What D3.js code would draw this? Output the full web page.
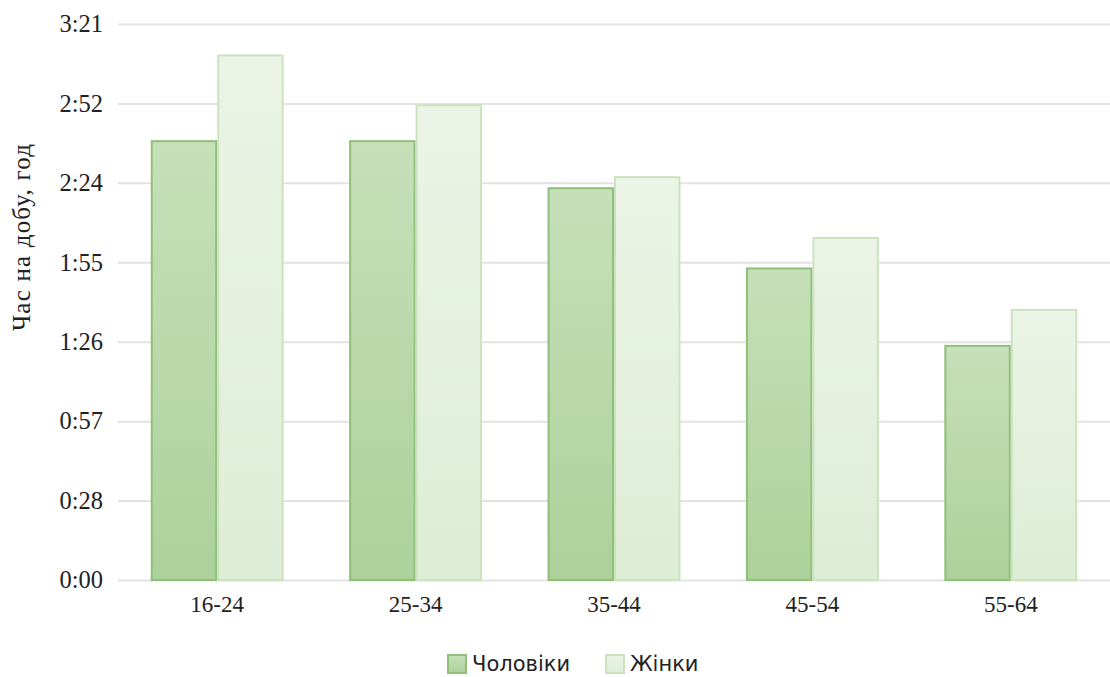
<!DOCTYPE html>
<html>
<head>
<meta charset="utf-8">
<script src="https://cdn.jsdelivr.net/npm/d3@7"></script>
<style>
  html, body { margin: 0; padding: 0; background: #fff; }
  svg { display: block; }
</style>
</head>
<body>
<svg id="chart" width="1110" height="677"></svg>
<script>
// Age groups and daily time (minutes) per sex
const categories = ["16-24", "25-34", "35-44", "45-54", "55-64"];
const seriesNames = ["Чоловіки", "Жінки"];
const menMinutes = [159, 159, 142, 113, 85];
const womenMinutes = [190, 172, 146, 124, 98];
// Axis ticks: 3:21 split into seven equal steps
const yMaxMinutes = 201;
const tickLabels = ["0:00", "0:28", "0:57", "1:26", "1:55", "2:24", "2:52", "3:21"];
const yTitle = "Час на добу, год";

const series = [menMinutes, womenMinutes];
const rows = categories.map((c, i) => ({ cat: c, values: series.map((s, k) => ({ key: seriesNames[k], value: s[i] })) }));

const svg = d3.select("#chart");
const margin = { top: 24, right: 0, bottom: 97, left: 118 };
const W = 1110, H = 677;
const innerW = W - margin.left - margin.right;
const innerH = H - margin.top - margin.bottom;

const g = svg.append("g").attr("transform", `translate(${margin.left},${margin.top})`);

const x0 = d3.scaleBand().domain(categories).range([0, innerW]).paddingInner(0.33).paddingOuter(0.165);
const x1 = d3.scaleBand().domain(seriesNames).range([0, x0.bandwidth()]);
const y = d3.scaleLinear().domain([0, yMaxMinutes]).range([innerH, 0]);
const tickValues = tickLabels.map((_, i) => i * yMaxMinutes / (tickLabels.length - 1));

const serif = "'Liberation Serif', 'Times New Roman', serif";

// vertical gradients for the bar fills
const defs = svg.append("defs");
const grads = [
  { id: "gMen", top: "#c6e0b9", bottom: "#acd19b" },
  { id: "gWomen", top: "#ebf4e6", bottom: "#deedd5" }
];
grads.forEach(d => {
  const lg = defs.append("linearGradient").attr("id", d.id).attr("x1", 0).attr("y1", 0).attr("x2", 0).attr("y2", 1);
  lg.append("stop").attr("offset", "0%").attr("stop-color", d.top);
  lg.append("stop").attr("offset", "100%").attr("stop-color", d.bottom);
});
const fills = { "Чоловіки": "url(#gMen)", "Жінки": "url(#gWomen)" };
const strokes = { "Чоловіки": "#8fbf78", "Жінки": "#cbe3bf" };

// y grid + labels
const yAxis = d3.axisLeft(y).tickValues(tickValues).tickSize(-innerW).tickPadding(15)
  .tickFormat((d, i) => tickLabels[i]);
const yg = g.append("g").call(yAxis);
yg.select(".domain").remove();
yg.selectAll(".tick line").attr("stroke", "#e3e3e3").attr("stroke-width", 2);
yg.selectAll(".tick text").attr("fill", "#222").attr("font-family", serif).attr("font-size", 24.5);

// bars
const groups = g.selectAll(".grp").data(rows).enter().append("g")
  .attr("transform", d => `translate(${x0(d.cat)},0)`);
groups.selectAll("rect").data(d => d.values).enter().append("rect")
  .attr("x", d => x1(d.key) + 1)
  .attr("y", d => y(d.value) + 1)
  .attr("width", x1.bandwidth() - 2)
  .attr("height", d => y(0) - y(d.value) - 1)
  .attr("fill", d => fills[d.key])
  .attr("stroke", d => strokes[d.key])
  .attr("stroke-width", 2);

// x axis labels
const xAxis = d3.axisBottom(x0).tickSize(0).tickPadding(16);
const xg = g.append("g").attr("transform", `translate(0,${innerH})`).call(xAxis);
xg.select(".domain").remove();
xg.selectAll(".tick text").attr("fill", "#222").attr("font-family", serif).attr("font-size", 23);

// y title
svg.append("text")
  .attr("transform", `translate(30,237) rotate(-90)`)
  .attr("text-anchor", "middle")
  .attr("font-family", serif)
  .attr("font-size", 25)
  .attr("letter-spacing", 1.2)
  .attr("fill", "#222")
  .text(yTitle);

// legend
const legend = svg.append("g").attr("transform", "translate(447,664)");
const legendX = [0, 158];
seriesNames.forEach((name, i) => {
  const lg = legend.append("g").attr("transform", `translate(${legendX[i]},0)`);
  lg.append("rect").attr("x", 1).attr("y", -9).attr("width", 18).attr("height", 18)
    .attr("fill", fills[name]).attr("stroke", strokes[name]).attr("stroke-width", 2);
  lg.append("text").attr("x", 25).attr("y", 0).attr("dy", "0.35em")
    .attr("font-family", "'DejaVu Sans', sans-serif").attr("font-size", 21).attr("fill", "#222")
    .text(name);
});
</script>
</body>
</html>
